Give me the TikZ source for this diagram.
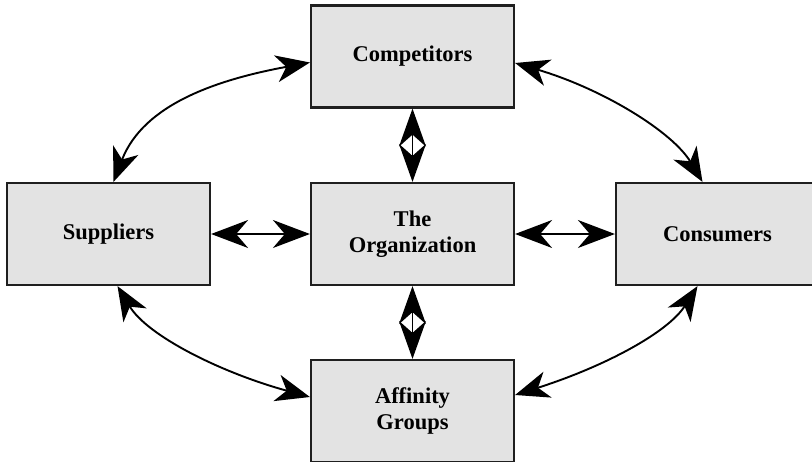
\documentclass[tikz,border=0pt]{standalone}
\usepackage{fontspec}
\setmainfont{Liberation Serif}
\usetikzlibrary{arrows.meta}
\begin{document}
\begin{tikzpicture}[x=1pt,y=-1pt,
  box/.style={draw=black!88,line width=2.2pt,fill=black!11,
    minimum width=203pt,minimum height=102pt,inner sep=0pt,
    align=center,font=\fontsize{22.5}{26}\selectfont\bfseries},
  curvearrow/.style={line width=1.9pt,
    {Stealth[length=34pt,width=27pt,inset=10pt]}-{Stealth[length=34pt,width=27pt,inset=10pt]}},
  straightarrow/.style={line width=1.9pt,
    {Stealth[length=37pt,width=28pt,inset=12pt]}-{Stealth[length=37pt,width=28pt,inset=12pt]}},
  stackedarrow/.style={line width=1.9pt,
    {Stealth[length=38pt,width=27pt,inset=12pt]}-{Stealth[length=38pt,width=27pt,inset=12pt]}}]
  \useasboundingbox (0,0) rectangle (812,461);

  % the five parties
  \node[box] (comp) at (412.5,56.5) {Competitors};
  \node[box] (org)  at (412.5,234)  {The\\Organization};
  \node[box] (sup)  at (108.5,234)  {Suppliers};
  \node[box] (con)  at (717.5,234)  {Consumers};
  \node[box] (aff)  at (412.5,411)  {Affinity\\Groups};

  % direct links with the organization
  \draw[stackedarrow]  (comp.south) -- (org.north);
  \draw[stackedarrow]  (org.south)  -- (aff.north);
  \draw[straightarrow] (sup.east)   -- (org.west);
  \draw[straightarrow] (org.east)   -- (con.west);

  % links around the outside
  \draw[curvearrow] ([xshift=5pt]sup.north)
    .. controls +(30,-78) and +(-92,17) .. ([yshift=-6pt]comp.west);
  \draw[curvearrow] ([yshift=-6.5pt]comp.east)
    .. controls +(88,26) and +(-30,-50) .. ([xshift=-15pt]con.north);
  \draw[curvearrow] ([xshift=9pt]sup.south)
    .. controls +(30,50) and +(-88,-24) .. ([yshift=14pt]aff.west);
  \draw[curvearrow] ([xshift=-20pt]con.south)
    .. controls +(-30,47) and +(88,-28) .. ([yshift=16pt]aff.east);
\end{tikzpicture}
\end{document}
